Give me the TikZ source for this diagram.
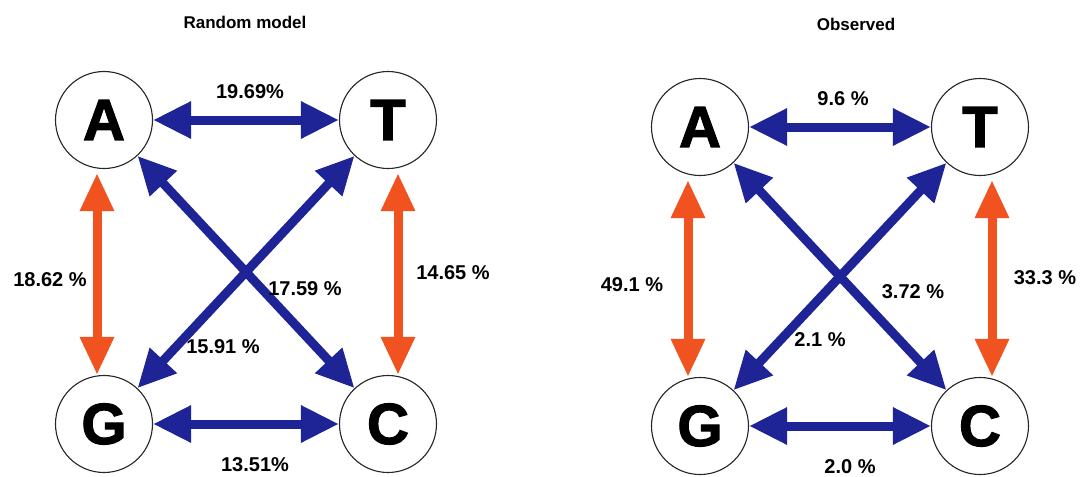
\documentclass[tikz,border=0pt]{standalone}
\usepackage{fontspec}
\setmainfont{Liberation Sans}
\newfontfamily\heavyfont{Liberation Sans}[BoldFeatures={FakeBold=2}]
\usetikzlibrary{arrows.meta}
\definecolor{navy}{RGB}{30,36,150}
\definecolor{orng}{RGB}{240,82,32}
\tikzset{
  base/.style={circle,draw=black!85,line width=1.1pt,minimum size=97pt,inner sep=0pt,
    font=\heavyfont\fontsize{58}{58}\selectfont\bfseries},
  blu/.style={draw=navy,line width=9pt,{Triangle[length=38pt,width=35pt]}-{Triangle[length=38pt,width=35pt]}},
  org/.style={draw=orng,line width=9pt,{Triangle[length=38pt,width=32pt]}-{Triangle[length=38pt,width=32pt]},shorten <=4pt},
  lab/.style={font=\fontsize{20}{20}\selectfont\bfseries,inner sep=0pt},
  ttl/.style={font=\fontsize{17}{17}\selectfont\bfseries,inner sep=0pt}
}
\begin{document}
\begin{tikzpicture}[x=1pt,y=-1pt]
\useasboundingbox[fill=white] (0,0) rectangle (1088,477);
% titles
\node[ttl] (t1) at (245,22) {Random model};
\node[ttl] (t2) at (856,24) {Observed};
% left diagram
\node[base] (A1) at (104,120) {A};
\node[base] (T1) at (388,120) {T};
\node[base] (G1) at (104,424) {G};
\node[base] (C1) at (388,424) {C};
\draw[blu] (A1) -- (T1);
\draw[blu] (G1) -- (C1);
\draw[blu] (A1) -- (C1);
\draw[blu] (T1) -- (G1);
\draw[org] ([xshift=-7pt]A1.south) -- ([xshift=-7pt]G1.north);
\draw[org] ([xshift=10pt]T1.south) -- ([xshift=10pt]C1.north);
\node[lab] (l1) at (250,92) {19.69\%};
\node[lab] (l2) at (255,465) {13.51\%};
\node[lab] (l3) at (50,280) {18.62 \%};
\node[lab] (l4) at (453,273) {14.65 \%};
\node[lab] (l5) at (305,289) {17.59 \%};
\node[lab] (l6) at (223,347) {15.91 \%};
% right diagram
\node[base] (A2) at (700,127) {A};
\node[base] (T2) at (980,127) {T};
\node[base] (G2) at (700,426) {G};
\node[base] (C2) at (980,426) {C};
\draw[blu] (A2) -- (T2);
\draw[blu] (G2) -- (C2);
\draw[blu] (A2) -- (C2);
\draw[blu] (T2) -- (G2);
\draw[org] ([xshift=-12pt]A2.south) -- ([xshift=-12pt]G2.north);
\draw[org] ([xshift=12pt]T2.south) -- ([xshift=12pt]C2.north);
\node[lab] (r1) at (843,99) {9.6 \%};
\node[lab] (r2) at (850,467) {2.0 \%};
\node[lab] (r3) at (632,285) {49.1 \%};
\node[lab] (r4) at (1045,278) {33.3 \%};
\node[lab] (r5) at (913,292) {3.72 \%};
\node[lab] (r6) at (820,340) {2.1 \%};
\end{tikzpicture}
\end{document}
